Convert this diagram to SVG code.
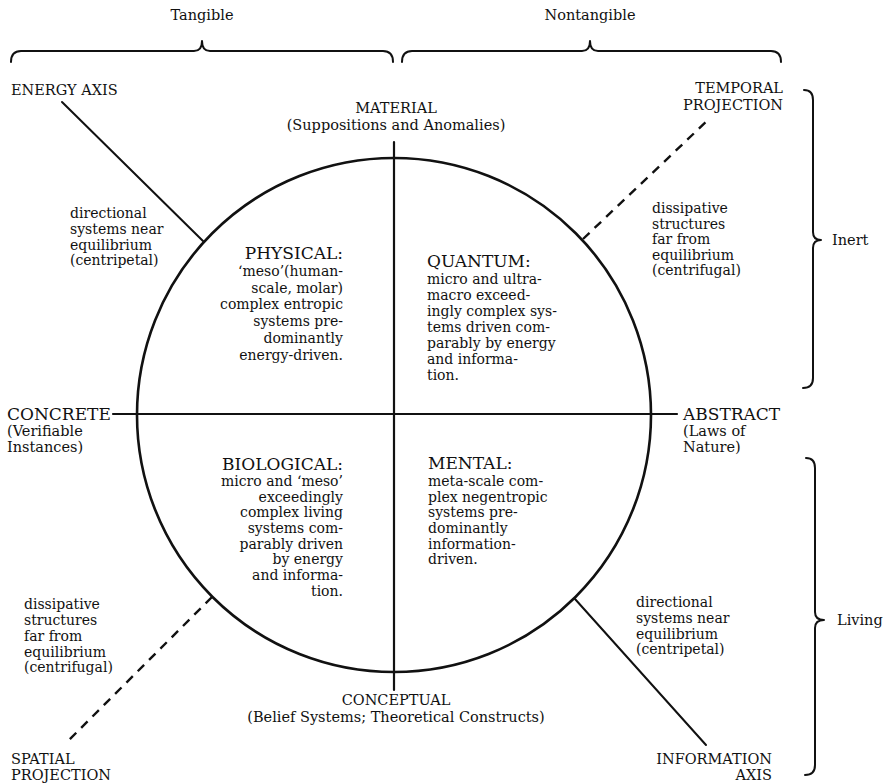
<svg xmlns="http://www.w3.org/2000/svg" width="889" height="783" viewBox="0 0 889 783">
  <style>
    text { font-family: "DejaVu Serif", "Liberation Serif", serif; fill: #111; }
    .lbl { font-size: 14.5px; }
    .head { font-size: 17px; }
    .sub { font-size: 14.5px; }
    .body { font-size: 14px; }
    .mid { text-anchor: middle; }
    .end { text-anchor: end; }
    .stroke { fill: none; stroke: #111; stroke-linecap: round; stroke-linejoin: round; }
    .dash { stroke-dasharray: 9 7; stroke-linecap: butt; }
  </style>

  <!-- circle and its two crossing axes -->
  <g id="frame">
    <circle class="stroke" cx="394" cy="415" r="257" stroke-width="2.6"/>
    <line class="stroke" x1="394" y1="142" x2="394" y2="690" stroke-width="2.2"/>
    <line class="stroke" x1="113" y1="414" x2="677" y2="414" stroke-width="2.2"/>
  </g>

  <!-- diagonal axes -->
  <g id="connectors">
    <line class="stroke" x1="62" y1="102" x2="204" y2="242" stroke-width="2"/>
    <line class="stroke dash" x1="583" y1="239" x2="708" y2="120" stroke-width="2.4"/>
    <line class="stroke dash" x1="212" y1="597" x2="67" y2="742" stroke-width="2.4"/>
    <line class="stroke" x1="575" y1="599" x2="706" y2="745" stroke-width="2"/>
  </g>

  <!-- braces -->
  <g id="braces">
    <path class="stroke" stroke-width="2" d="M11,62 Q11,51 21,51 L194,51 Q202,51 202,41 Q202,51 210,51 L383,51 Q393,51 393,62"/>
    <path class="stroke" stroke-width="2" d="M402,62 Q402,51 412,51 L582,51 Q590,51 590,41 Q590,51 598,51 L771,51 Q781,51 781,62"/>
    <path class="stroke" stroke-width="2" d="M804,90 Q813,90 813,100 L813,232 Q813,240 821,240 Q813,240 813,248 L813,378 Q813,388 803,388"/>
    <path class="stroke" stroke-width="2" d="M806,458 Q815,458 815,468 L815,612 Q815,620 824,620 Q815,620 815,628 L815,765 Q815,775 805,775"/>
  </g>

  <g id="tangible"><text class="sub mid" x="202" y="20">Tangible</text></g>
  <g id="nontangible"><text class="sub mid" x="590" y="20">Nontangible</text></g>
  <g id="inert"><text class="sub" x="832" y="245">Inert</text></g>
  <g id="living"><text class="sub" x="837" y="625">Living</text></g>

  <g id="energy-axis"><text class="lbl" x="11" y="95">ENERGY AXIS</text></g>
  <g id="temporal-projection">
    <text class="lbl end" x="783" y="93">TEMPORAL</text>
    <text class="lbl end" x="783" y="110">PROJECTION</text>
  </g>
  <g id="spatial-projection">
    <text class="lbl" x="11" y="764">SPATIAL</text>
    <text class="lbl" x="11" y="780">PROJECTION</text>
  </g>
  <g id="information-axis">
    <text class="lbl end" x="772" y="764">INFORMATION</text>
    <text class="lbl end" x="772" y="780">AXIS</text>
  </g>

  <g id="material">
    <text class="lbl mid" x="396" y="113">MATERIAL</text>
    <text class="sub mid" x="396" y="130">(Suppositions and Anomalies)</text>
  </g>
  <g id="conceptual">
    <text class="lbl mid" x="396" y="705">CONCEPTUAL</text>
    <text class="sub mid" x="396" y="722">(Belief Systems; Theoretical Constructs)</text>
  </g>
  <g id="concrete">
    <text class="head" x="7" y="420">CONCRETE</text>
    <text class="sub" x="7" y="436">(Verifiable</text>
    <text class="sub" x="7" y="452">Instances)</text>
  </g>
  <g id="abstract">
    <text class="head" x="683" y="420">ABSTRACT</text>
    <text class="sub" x="683" y="436">(Laws of</text>
    <text class="sub" x="683" y="452">Nature)</text>
  </g>

  <!-- side notes -->
  <g id="note-energy" class="body">
    <text x="70" y="218">directional</text>
    <text x="70" y="234">systems near</text>
    <text x="70" y="250">equilibrium</text>
    <text x="70" y="265">(centripetal)</text>
  </g>
  <g id="note-temporal" class="body">
    <text x="652" y="213">dissipative</text>
    <text x="652" y="229">structures</text>
    <text x="652" y="244">far from</text>
    <text x="652" y="260">equilibrium</text>
    <text x="652" y="275">(centrifugal)</text>
  </g>
  <g id="note-spatial" class="body">
    <text x="24" y="609">dissipative</text>
    <text x="24" y="625">structures</text>
    <text x="24" y="641">far from</text>
    <text x="24" y="657">equilibrium</text>
    <text x="24" y="672">(centrifugal)</text>
  </g>
  <g id="note-information" class="body">
    <text x="636" y="607">directional</text>
    <text x="636" y="623">systems near</text>
    <text x="636" y="639">equilibrium</text>
    <text x="636" y="654">(centripetal)</text>
  </g>

  <!-- quadrants -->
  <g id="physical" class="end">
    <text class="head" x="343" y="259">PHYSICAL:</text>
    <text class="body" x="343" y="276">‘meso’(human-</text>
    <text class="body" x="343" y="293">scale, molar)</text>
    <text class="body" x="343" y="309">complex entropic</text>
    <text class="body" x="343" y="326">systems pre-</text>
    <text class="body" x="343" y="343">dominantly</text>
    <text class="body" x="343" y="360">energy-driven.</text>
  </g>
  <g id="quantum">
    <text class="head" x="427" y="267">QUANTUM:</text>
    <text class="body" x="427" y="284">micro and ultra-</text>
    <text class="body" x="427" y="300">macro exceed-</text>
    <text class="body" x="427" y="316">ingly complex sys-</text>
    <text class="body" x="427" y="332">tems driven com-</text>
    <text class="body" x="427" y="348">parably by energy</text>
    <text class="body" x="427" y="364">and informa-</text>
    <text class="body" x="427" y="380">tion.</text>
  </g>
  <g id="biological" class="end">
    <text class="head" x="343" y="470">BIOLOGICAL:</text>
    <text class="body" x="343" y="486">micro and ‘meso’</text>
    <text class="body" x="343" y="502">exceedingly</text>
    <text class="body" x="343" y="517">complex living</text>
    <text class="body" x="343" y="533">systems com-</text>
    <text class="body" x="343" y="549">parably driven</text>
    <text class="body" x="343" y="564">by energy</text>
    <text class="body" x="343" y="580">and informa-</text>
    <text class="body" x="343" y="596">tion.</text>
  </g>
  <g id="mental">
    <text class="head" x="428" y="469">MENTAL:</text>
    <text class="body" x="428" y="486">meta-scale com-</text>
    <text class="body" x="428" y="502">plex negentropic</text>
    <text class="body" x="428" y="517">systems pre-</text>
    <text class="body" x="428" y="533">dominantly</text>
    <text class="body" x="428" y="549">information-</text>
    <text class="body" x="428" y="564">driven.</text>
  </g>
</svg>
